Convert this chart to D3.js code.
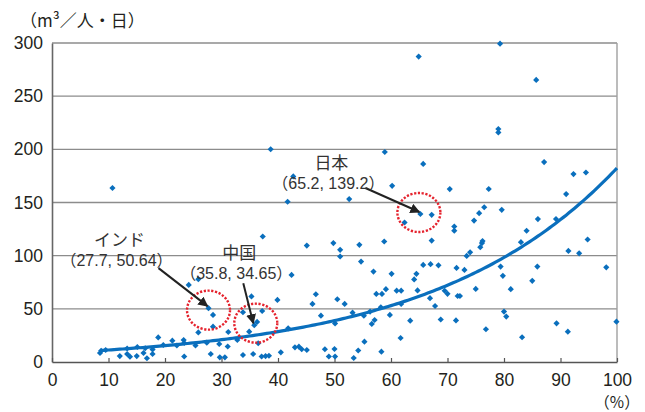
<!DOCTYPE html>
<html lang="ja">
<head>
<meta charset="utf-8">
<script src="https://cdn.jsdelivr.net/npm/d3@7"></script>
<style>
  html, body { margin: 0; padding: 0; background: #fff; }
  svg { display: block; font-family: "Liberation Sans", Arial, "Noto Sans CJK JP", sans-serif; }
</style>
</head>
<body>
<svg id="chart" width="645" height="412"></svg>
<script>
// Urban water-supply rate (%) vs. daily water use per person (m3/person/day)
const xValues = [
  8.5, 8.7, 9.5, 12.0, 13.3, 13.3, 13.8, 15.1, 15.0, 16.2, 16.5, 16.8, 17.8, 17.8, 18.8, 19.7,
  21.3, 22.1, 23.3, 23.4, 23.4, 24.2, 25.9, 25.4, 25.9, 27.4, 27.7, 28.5, 28.5, 28.1, 29.6, 29.7,
  30.6, 31.2, 31.1, 32.8, 33.8, 33.8, 34.9, 35.3, 35.8, 36.3, 37.2, 35.6, 37.1, 37.8, 38.4, 36.5,
  37.3, 38.7, 39.9, 40.5, 41.8, 42.4, 43.0, 43.7, 44.2, 45.1, 46.1, 46.7, 47.6, 48.3, 49.0, 50.0,
  50.1, 50.1, 50.5, 51.8, 51.0, 51.0, 49.8, 53.2, 53.4, 54.2, 54.7, 54.4, 55.2, 55.3, 56.3, 56.6,
  57.1, 56.9, 57.4, 58.4, 59.1, 58.2, 58.3, 59.8, 60.1, 58.8, 61.0, 61.8, 61.8, 61.7, 63.4, 64.1,
  64.5, 64.7, 65.7, 67.0, 68.4, 66.9, 67.8, 68.8, 60.2, 58.9, 65.7, 52.6, 41.7, 42.7, 65.2, 62.4,
  67.2, 67.2, 45.1, 64.9, 69.5, 70.0, 71.6, 71.8, 72.2, 71.5, 73.0, 73.4, 74.0, 75.0, 76.8, 79.4,
  79.8, 80.0, 80.4, 81.2, 83.2, 85.0, 85.9, 89.3, 91.3, 91.4, 93.3, 98.1, 99.9, 70.4, 77.3, 91.0,
  71.2, 71.2, 74.7, 75.6, 76.5, 79.6, 75.8, 76.1, 76.2, 83.0, 84.0, 86.0, 89.2, 94.8, 79.0, 79.0,
  87.1, 92.3, 94.5, 79.3, 85.7, 10.7
];
const yValues = [
  8.5, 10.5, 11.3, 5.6, 12.7, 7.5, 5.0, 14.1, 5.6, 8.5, 12.9, 3.5, 11.8, 7.5, 23.1, 16.0,
  20.1, 15.5, 20.7, 17.9, 5.2, 72.5, 77.9, 15.5, 27.8, 18.2, 50.64, 44.3, 33.2, 7.5, 16.9, 4.4,
  4.4, 28.2, 14.6, 20.7, 46.8, 6.6, 28.5, 61.7, 34.65, 37.7, 48.0, 7.5, 5.2, 5.6, 5.9, 17.6,
  118.0, 200.1, 58.4, 9.1, 31.7, 81.9, 13.8, 14.4, 12.0, 11.3, 54.6, 63.7, 43.6, 12.0, 5.2, 12.2,
  5.2, 36.3, 59.0, 54.6, 105.5, 99.2, 111.8, 46.4, 3.8, 10.8, 94.4, 110.2, 43.6, 19.1, 47.4, 35.8,
  39.5, 85.0, 64.0, 64.0, 68.5, 51.5, 9.7, 44.3, 82.9, 113.3, 67.1, 67.1, 54.6, 22.6, 38.9, 77.7,
  82.9, 67.3, 91.3, 92.0, 90.9, 60.0, 52.7, 40.0, 165.7, 197.5, 186.3, 153.2, 150.7, 174.5, 139.2, 131.2,
  138.4, 114.2, 109.5, 287.2, 67.0, 64.1, 88.5, 62.1, 62.1, 39.1, 86.6, 99.8, 103.1, 68.7, 30.8, 89.7,
  81.0, 47.4, 42.7, 68.5, 23.3, 76.3, 89.7, 36.4, 28.5, 104.5, 102.2, 89.0, 37.9, 162.6, 162.7, 157.9,
  127.4, 123.5, 133.0, 140.0, 145.5, 143.1, 108.0, 111.8, 113.7, 112.7, 123.4, 134.4, 134.5, 115.2, 219.1, 215.9,
  188.0, 176.7, 178.2, 299.4, 265.3, 163.6
];

// Exponential trend line y = a * e^(b x), fitted over the observed range
const trendA = 8.3;
const trendB = 0.0309;
const trendRange = [8.5, 100];

// Highlighted countries
const calloutNames = ["日本", "インド", "中国"];
const calloutX = [65.2, 27.7, 35.8];
const calloutY = [139.2, 50.64, 34.65];

// Axis ticks
const xTicks = [0, 10, 20, 30, 40, 50, 60, 70, 80, 90, 100];
const yTicks = [0, 50, 100, 150, 200, 250, 300];

const svg = d3.select("#chart");
const plotLeft = 52, plotRight = 617, plotTop = 43, plotBottom = 362;

const x = d3.scaleLinear().domain([0, 100]).range([plotLeft, plotRight]);
const y = d3.scaleLinear().domain([0, 300]).range([plotBottom, plotTop]);

const blue = "#0a6fbd";
const textColor = "#231f20";
const cjkFont = "Noto Sans CJK JP, sans-serif";
const latinFont = "Liberation Sans, Arial, sans-serif";

// Horizontal gridlines
svg.append("g")
  .selectAll("line")
  .data(yTicks.filter(d => d > 0))
  .join("line")
  .attr("x1", plotLeft).attr("x2", plotRight)
  .attr("y1", d => y(d)).attr("y2", d => y(d))
  .attr("stroke", "#8c8c8c").attr("stroke-width", 1.4);

// Right edge of the plot area
svg.append("line")
  .attr("x1", plotRight).attr("x2", plotRight).attr("y1", plotTop).attr("y2", plotBottom)
  .attr("stroke", "#a0a0a0").attr("stroke-width", 1.4);

// Y axis
const yAxis = svg.append("g")
  .attr("transform", `translate(${plotLeft},0)`)
  .call(d3.axisLeft(y).tickValues(yTicks).tickSize(0).tickPadding(9));
yAxis.select(".domain").attr("stroke", "#666").attr("stroke-width", 1.6);
yAxis.selectAll("text")
  .attr("font-size", 17.5).attr("fill", textColor)
  .attr("font-family", latinFont);

// X axis with short inward ticks
const xAxis = svg.append("g")
  .attr("transform", `translate(0,${plotBottom})`)
  .call(d3.axisBottom(x).tickValues(xTicks).tickSizeInner(-4).tickSizeOuter(0).tickPadding(12));
xAxis.select(".domain").attr("stroke", "#555").attr("stroke-width", 1.6);
xAxis.selectAll(".tick line").attr("stroke", "#555").attr("stroke-width", 1.2);
xAxis.selectAll("text")
  .attr("font-size", 17.5).attr("fill", textColor)
  .attr("font-family", latinFont);

// Axis units
svg.append("text")
  .attr("x", 20).attr("y", 27)
  .attr("font-size", 17).attr("fill", textColor)
  .attr("font-family", cjkFont)
  .text("（m³／人・日）");

svg.append("text")
  .attr("x", x(100)).attr("y", 408)
  .attr("text-anchor", "middle")
  .attr("font-size", 15.5).attr("fill", textColor)
  .attr("font-family", cjkFont)
  .text("（%）");

// Scatter points
const pts = xValues.map((v, i) => [v, yValues[i]]);
svg.append("g")
  .selectAll("path")
  .data(pts)
  .join("path")
  .attr("d", d3.symbol().type(d3.symbolSquare).size(19))
  .attr("transform", d => `translate(${x(d[0])},${y(d[1])}) rotate(45)`)
  .attr("fill", blue);

// Trend line
const trendXs = d3.range(trendRange[0], trendRange[1] + 0.001, 0.5);
svg.append("path")
  .datum(trendXs)
  .attr("fill", "none")
  .attr("stroke", blue)
  .attr("stroke-width", 3.2)
  .attr("d", d3.line().x(d => x(d)).y(d => y(trendA * Math.exp(trendB * d))));

// Callouts: dotted circle, arrow and label for each highlighted country
const defs = svg.append("defs");
defs.append("marker")
  .attr("id", "arrowhead")
  .attr("viewBox", "0 0 10 10")
  .attr("refX", 9).attr("refY", 5)
  .attr("markerWidth", 5).attr("markerHeight", 5)
  .attr("orient", "auto")
  .append("path").attr("d", "M0,0 L10,5 L0,10 Z").attr("fill", "#222");

// label centre offsets (px) and arrow start offsets relative to each point
const labelDX = [-92, -92, -18];
const labelDY = [-25, -42, -46];
const arrowDX = [-55, -50, -11];
const arrowDY = [-26, -40, -42];
const ringDX = [-1.5, 0, 1.5];
const ringDY = [-1.5, 2, -2];

calloutNames.forEach((name, i) => {
  const px = x(calloutX[i]), py = y(calloutY[i]);
  svg.append("ellipse")
    .attr("cx", px + ringDX[i]).attr("cy", py + ringDY[i])
    .attr("rx", 21.5).attr("ry", 19.5)
    .attr("fill", "none")
    .attr("stroke", "#e5232e").attr("stroke-width", 2.4)
    .attr("stroke-dasharray", "2.2,1.6");

  svg.append("line")
    .attr("x1", px + arrowDX[i]).attr("y1", py + arrowDY[i])
    .attr("x2", px - 1).attr("y2", py - 2)
    .attr("stroke", "#222").attr("stroke-width", 2)
    .attr("marker-end", "url(#arrowhead)");

  const lx = px + labelDX[i], ly = py + labelDY[i];
  const g = svg.append("g")
    .attr("fill", "#333").attr("text-anchor", "middle");
  g.append("text").attr("x", lx + 3).attr("y", ly - 20)
    .attr("font-size", 17)
    .attr("font-family", cjkFont)
    .text(name);
  const t = g.append("text").attr("x", lx).attr("y", ly)
    .attr("font-size", 16)
    .attr("font-family", latinFont);
  t.append("tspan").attr("font-family", cjkFont).text("（");
  t.append("tspan").text(`${calloutX[i]}, ${calloutY[i]}`);
  t.append("tspan").attr("font-family", cjkFont).text("）");
});
</script>
</body>
</html>
